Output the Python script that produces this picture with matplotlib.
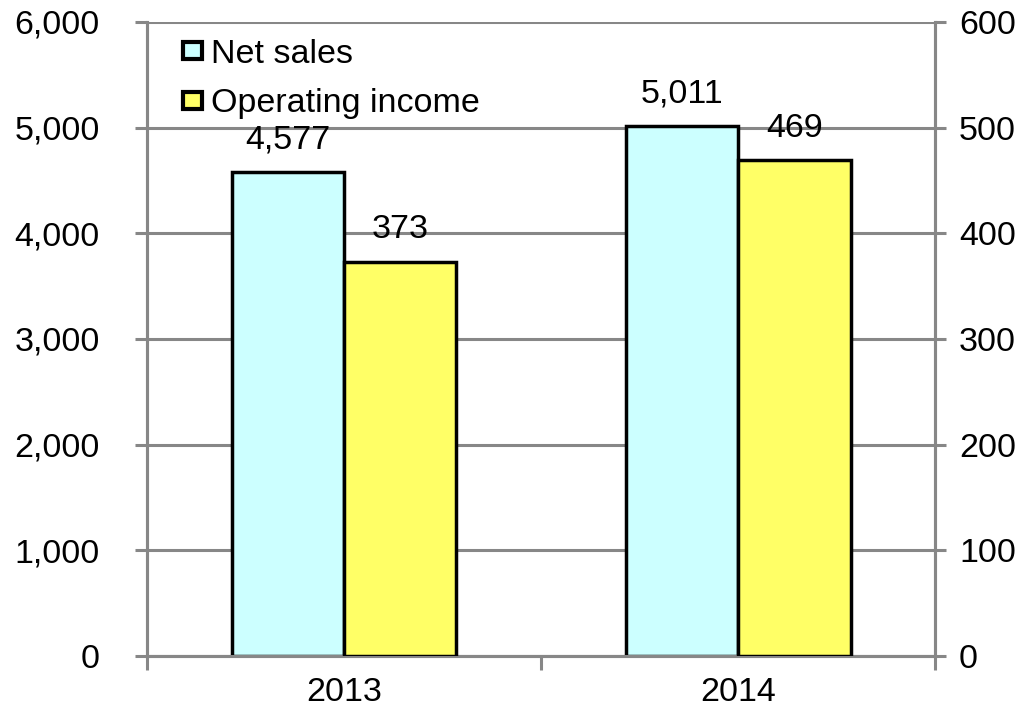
import matplotlib
matplotlib.use("Agg")
import matplotlib.pyplot as plt
import numpy as np
from matplotlib.patches import Patch

plt.rcParams['font.family'] = ['Liberation Sans', 'DejaVu Sans']

years = ['2013', '2014']
net_sales = [4577, 5011]          # left axis
operating_income = [373, 469]     # right axis

GRAY = '#878787'
CYAN = '#CCFFFF'
YELLOW = '#FFFF66'
FS = 24.5

fig = plt.figure(figsize=(10.2, 7.15), dpi=100)
ax = fig.add_axes([0.144, 0.0825, 0.773, 0.887])
ax2 = ax.twinx()

x = np.arange(len(years))
w = 0.285

ax.bar(x - w / 2, net_sales, w, color=CYAN, edgecolor='black', linewidth=2.5, zorder=3)
ax2.bar(x + w / 2, operating_income, w, color=YELLOW, edgecolor='black', linewidth=2.5, zorder=3)

ax.set_ylim(0, 6000)
ax2.set_ylim(0, 600)
ax.set_xlim(-0.5, 1.5)

ax.set_yticks(range(0, 6001, 1000))
ax.set_yticklabels([f'{v:,}' for v in range(0, 6001, 1000)])
ax2.set_yticks(range(0, 601, 100))

# category labels in the middle, tick marks on the boundaries
ax.set_xticks(x)
ax.set_xticklabels(years)
ax.set_xticks([-0.5, 0.5, 1.5], minor=True)
ax.tick_params(axis='x', which='major', length=0, labelsize=FS, pad=15)
ax.tick_params(axis='x', which='minor', length=10, width=2.2, color=GRAY, direction='out')

ax.tick_params(axis='y', length=9, width=2.2, color=GRAY, labelsize=FS, pad=25)
ax2.tick_params(axis='y', length=8, width=2.2, color=GRAY, labelsize=FS, pad=9)

ax.yaxis.grid(True, color=GRAY, linewidth=2.2, zorder=0)
ax.set_axisbelow(True)

for a in (ax, ax2):
    a.spines['top'].set_visible(False)
    for s in ('left', 'right', 'bottom'):
        a.spines[s].set_color(GRAY)
        a.spines[s].set_linewidth(2.2)
ax2.patch.set_visible(False)

for xi, v in zip(x, net_sales):
    ax.annotate(f'{v:,}', (xi - w / 2, v), xytext=(0, 12), textcoords='offset points',
                ha='center', va='bottom', fontsize=FS)
for xi, v in zip(x, operating_income):
    ax2.annotate(f'{v:,}', (xi + w / 2, v), xytext=(0, 12), textcoords='offset points',
                 ha='center', va='bottom', fontsize=FS)

handles = [Patch(facecolor=CYAN, edgecolor='black', linewidth=3),
           Patch(facecolor=YELLOW, edgecolor='black', linewidth=3)]
ax2.legend(handles, ['Net sales', 'Operating income'], loc='upper left',
           bbox_to_anchor=(0.029, 0.995), frameon=False, fontsize=FS,
           handlelength=0.55, handleheight=0.4, handletextpad=0.25,
           labelspacing=0.55, borderaxespad=0)

fig.savefig('out.png', dpi=100)
